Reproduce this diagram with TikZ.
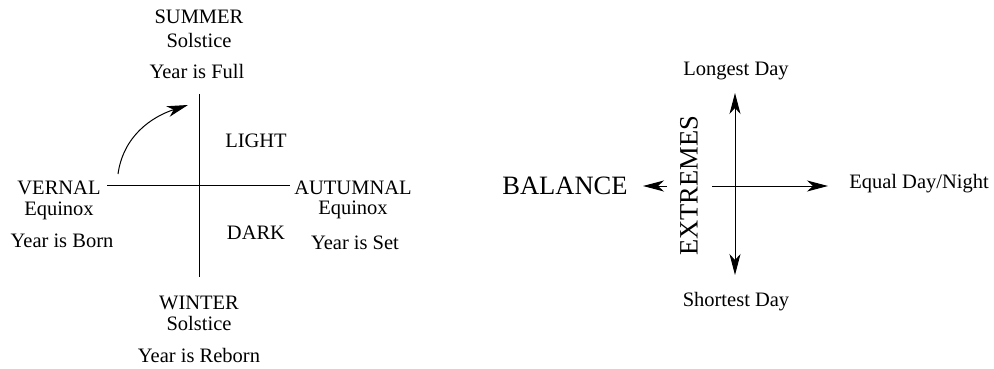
\documentclass[tikz,border=0pt]{standalone}
\usepackage{fontspec}
\setmainfont{Liberation Serif}
\usetikzlibrary{arrows.meta}
\begin{document}
\begin{tikzpicture}[x=1pt,y=-1pt,
  lbl/.style={font=\fontsize{20.5}{22}\selectfont, inner sep=0pt, anchor=base},
  big/.style={font=\fontsize{26.5}{28}\selectfont, inner sep=0pt},
  axis/.style={line width=1pt},
  tip/.tip={Stealth[length=21pt,width=11pt,inset=6pt]},
  arr/.style={line width=1pt, -tip},
  arrboth/.style={line width=1pt, tip-tip}]
\useasboundingbox (0,0) rectangle (994,369);
% left diagram
\coordinate (vt) at (199,94);
\coordinate (vb) at (199,277);
\coordinate (hl) at (107,185);
\coordinate (hr) at (290,185);
\draw[axis] (vt) -- (vb);
\draw[axis] (hl) -- (hr);
\coordinate (cs) at (118,174);
\coordinate (ce) at (188,105);
\draw[arr] (cs) to[out=82,in=198] (ce);
\node[lbl] (summer) at (199,24) {SUMMER};
\node[lbl] (sol1) at (199,48) {Solstice};
\node[lbl] (full) at (197,78) {Year is Full};
\node[lbl] (light) at (256,147) {LIGHT};
\node[lbl] (vernal) at (59,194) {VERNAL};
\node[lbl] (eq1) at (59,215) {Equinox};
\node[lbl] (born) at (62,247) {Year is Born};
\node[lbl] (autumnal) at (353,194) {AUTUMNAL};
\node[lbl] (eq2) at (353,214) {Equinox};
\node[lbl] (set) at (355,249) {Year is Set};
\node[lbl] (dark) at (256,239) {DARK};
\node[lbl] (winter) at (199,309) {WINTER};
\node[lbl] (sol2) at (199,330) {Solstice};
\node[lbl] (reborn) at (199,362) {Year is Reborn};
% right diagram
\node[lbl] (longest) at (736,76) {Longest Day};
\node[lbl] (shortest) at (736,306) {Shortest Day};
\node[lbl] (equal) at (919,188) {Equal Day/Night};
\node[big] (balance) at (565,186) {BALANCE};
\node[big, rotate=90] (extremes) at (689,186) {EXTREMES};
\coordinate (rt) at (735,93);
\coordinate (rb) at (735,275);
\draw[arrboth] (rb) -- (rt);
\coordinate (rl) at (712,186);
\coordinate (rr) at (828,186);
\draw[arr] (rl) -- (rr);
\coordinate (bs) at (667,186);
\coordinate (be) at (643,186);
\draw[arr] (bs) -- (be);
\end{tikzpicture}
\end{document}
